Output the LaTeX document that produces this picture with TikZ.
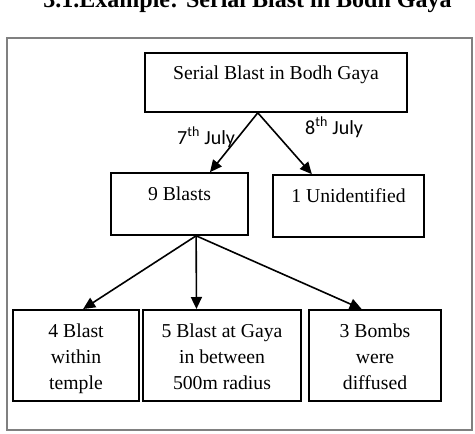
\documentclass[tikz,border=0pt]{standalone}
\usepackage{fontspec}
\setmainfont{Liberation Serif}
\newfontfamily\lblfont{Carlito}
\usetikzlibrary{arrows.meta,calc}
\begin{document}
\begin{tikzpicture}[x=1pt,y=-1pt,
 box/.style={draw=black, line width=1.6pt, inner xsep=0pt, inner ysep=0pt, align=center, font=\fontsize{19.7}{26.3}\selectfont},
 arr/.style={line width=1.6pt, -{Triangle[length=12pt,width=11pt]}},
 lbl/.style={font=\lblfont\fontsize{20}{24}\selectfont, inner sep=0pt, anchor=base west}]
\useasboundingbox (0,0) rectangle (475,434);
\clip (0,0) rectangle (475,434);
\node[font=\bfseries\fontsize{24}{28}\selectfont, anchor=base, inner sep=0pt] (title) at (247.5,7.5) {3.1.Example: Serial Blast in Bodh Gaya};
\node[draw=gray, line width=1.6pt, minimum width=465pt, minimum height=392pt, inner sep=0pt, anchor=north west] (frame) at (6,37) {};
\node[box, anchor=base, minimum width=262pt, text height=26pt, text depth=33pt] (top) at (276,79) {Serial Blast in Bodh Gaya};
\node[box, anchor=base, minimum width=137pt, text height=27pt, text depth=35pt] (nine) at (179.5,200) {9 Blasts};
\node[box, anchor=base, minimum width=151pt, text height=27pt, text depth=35pt] (one) at (348.5,202) {1 Unidentified};
\node[box, anchor=north, minimum width=126pt, text height=80pt, text depth=11pt] (b1) at (76,309) {4 Blast\\within\\temple};
\node[box, anchor=north, minimum width=158pt, text height=80pt, text depth=11pt] (b2) at (222,309) {5 Blast at Gaya\\in between\\500m radius};
\node[box, anchor=north, minimum width=132pt, text height=80pt, text depth=11pt] (b3) at (375,309) {3 Bombs\\were\\diffused};
\coordinate (s1) at ($(top.south west)!0.431!(top.south east)$);
\coordinate (s2) at ($(nine.south west)!0.62!(nine.south east)$);
\draw[arr] (s1) -- ($(nine.north west)!0.72!(nine.north east)$);
\draw[arr] (s1) -- ($(one.north west)!0.26!(one.north east)$);
\draw[arr] (s2) -- ($(b1.north west)!0.556!(b1.north east)$);
\draw[arr] (s2) -- ($(b2.north west)!0.34!(b2.north east)$);
\draw[arr] (s2) -- ($(b3.north west)!0.40!(b3.north east)$);
\node[lbl] (l7) at (177,144) {7\textsuperscript{th} July};
\node[lbl] (l8) at (305,134) {8\textsuperscript{th} July};
\end{tikzpicture}
\end{document}
